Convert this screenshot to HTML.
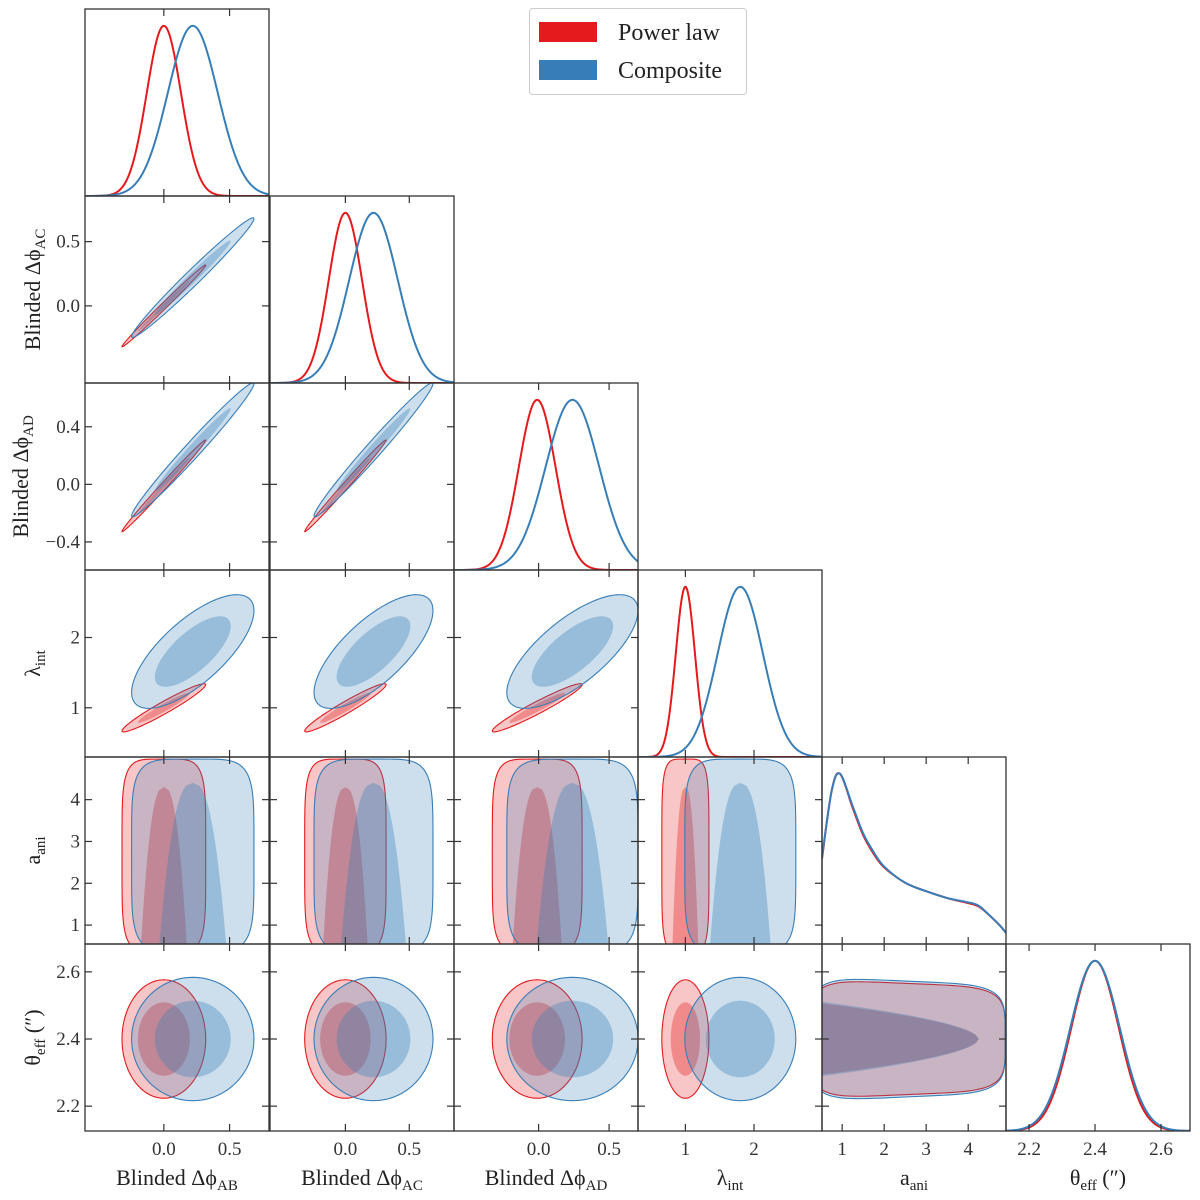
<!DOCTYPE html>
<html><head><meta charset="utf-8"><style>
html,body{margin:0;padding:0;background:#fff;}
svg{display:block;font-family:"Liberation Serif",serif;}
</style></head><body>
<svg id="chart" width="1200" height="1200" viewBox="0 0 1200 1200" xmlns="http://www.w3.org/2000/svg">
<g id="marks"></g>
<g id="frames"></g>
<g id="labels"></g>
<g>
<rect x="529.5" y="8.5" width="217" height="86" rx="3" fill="#fff" stroke="#cccccc" stroke-width="1"/>
<rect x="539" y="22" width="58" height="20" fill="#e41a1c"/>
<text x="618" y="40" font-size="24" fill="#222">Power law</text>
<rect x="539" y="60" width="58" height="20" fill="#377eb8"/>
<text x="618" y="78" font-size="24" fill="#222">Composite</text>
</g>
</svg>
<script>
// ---- data ----
const params = ['AB','AC','AD','lam','ani','theta'];
const plMean = [0.0, 0.0, -0.01, 1.0, 2.3, 2.40];
const plSigma = [0.13, 0.13, 0.13, 0.14, 1.0, 0.072];
const compMean = [0.22, 0.22, 0.24, 1.8, 2.3, 2.40];
const compSigma = [0.19, 0.19, 0.19, 0.33, 1.0, 0.075];
const corrPhiPL = 0.995;
const corrPhiComp = 0.985;
const corrLamPL = 0.96;
const corrLamComp = 0.72;
const aGrid = [0.52,0.75,0.95,1.25,1.5,1.75,2.0,2.5,3.0,3.5,4.0,4.25,4.5,4.75,4.9];
const aDensPL = [0.50,0.90,1.0,0.80,0.64,0.53,0.45,0.36,0.31,0.27,0.24,0.22,0.17,0.11,0.065];
const aDensComp = [0.51,0.90,1.0,0.81,0.65,0.54,0.455,0.36,0.31,0.27,0.245,0.225,0.17,0.11,0.065];
const xRanges = [[-0.6,0.80],[-0.59,0.85],[-0.60,0.705],[0.31,2.99],[0.52,4.9],[2.13,2.688]];
const yRanges = [[-0.6,0.80],[-0.6,0.855],[-0.595,0.704],[0.30,2.96],[0.548,5.02],[2.126,2.683]];
const xTickVals = [[0,0.5],[0,0.5],[0,0.5],[1,2],[1,2,3,4],[2.2,2.4,2.6]];
const xTickLabels = [['0.0','0.5'],['0.0','0.5'],['0.0','0.5'],['1','2'],['1','2','3','4'],['2.2','2.4','2.6']];
const yTickVals = [[0,0.5],[0,0.5],[-0.4,0,0.4],[1,2],[1,2,3,4],[2.2,2.4,2.6]];
const yTickLabels = [['0.0','0.5'],['0.0','0.5'],['\u22120.4','0.0','0.4'],['1','2'],['1','2','3','4'],['2.2','2.4','2.6']];

// ---- geometry ----
const colL = [85,270,454,638,822,1006], PW = 184;
const rowT = [9,196,383,570,757,944], PH = 187;
const NS = 'http://www.w3.org/2000/svg';
const marks = document.getElementById('marks'), frames = document.getElementById('frames'), labels = document.getElementById('labels');
function mk(tag, attrs, parent){const e=document.createElementNS(NS,tag);for(const k in attrs)e.setAttribute(k,attrs[k]);parent.appendChild(e);return e;}
function sx(c,v){const r=xRanges[c];return colL[c]+(v-r[0])/(r[1]-r[0])*PW;}
function sy(r,v){const g=yRanges[r];return rowT[r]+PH-(v-g[0])/(g[1]-g[0])*PH;}
function pathFrom(pts){return 'M'+pts.map(p=>p[0].toFixed(2)+','+p[1].toFixed(2)).join('L')+'Z';}
const RED='#e41a1c', BLUE='#377eb8';
const R68=1.52, R95=2.45;

function corrOf(i,j,model){
  const phi=(k)=>k<=2;
  if(phi(i)&&phi(j)) return model==='pl'?corrPhiPL:corrPhiComp;
  if((phi(i)&&j===3)||(phi(j)&&i===3)) return model==='pl'?corrLamPL:corrLamComp;
  return 0;
}
function ellipsePts(mx,my,sxv,syv,rho,r){
  const pts=[];const l11=sxv,l21=rho*syv,l22=syv*Math.sqrt(Math.max(1e-6,1-rho*rho));
  for(let k=0;k<120;k++){const t=k/120*2*Math.PI;const u=r*Math.cos(t),w=r*Math.sin(t);pts.push([mx+l11*u,my+l21*u+l22*w]);}
  return pts;
}
function drawShape(g,ptsData,c,row,fill,op,stroke){
  const pts=ptsData.map(p=>[sx(c,p[0]),sy(row,p[1])]);
  const a={d:pathFrom(pts),fill:fill,'fill-opacity':op};
  if(stroke){a.stroke=stroke;a['stroke-width']=1.1;a['stroke-opacity']=1;}
  return mk('path',a,g);
}
function aniShape(mu,sig,outer,aTop){
  const pts=[];
  if(outer){const aLo=0.35,aHi=4.97,am=(aLo+aHi)/2,ah=(aHi-aLo)/2,n=5;
    for(let k=0;k<160;k++){const t=k/160*2*Math.PI;const c=Math.cos(t),s=Math.sin(t);
      pts.push([mu+R95*sig*Math.sign(c)*Math.pow(Math.abs(c),2/n),am+ah*Math.sign(s)*Math.pow(Math.abs(s),2/n)]);}
  } else {const aLo=0.3;const N=60;
    const wf=(a)=>R68*sig*0.9*Math.pow(Math.max(0,(aTop-a)/(aTop-aLo)),0.4);
    for(let k=0;k<=N;k++){const a=aLo+(aTop-aLo)*k/N;pts.push([mu-wf(a),a]);}
    for(let k=N;k>=0;k--){const a=aLo+(aTop-aLo)*k/N;pts.push([mu+wf(a),a]);}
  }
  return pts;
}
function aniThetaShape(mu,sig,outer){
  const pts=[];
  if(outer){const aLo=0.25,aHi=4.88,am=(aLo+aHi)/2,ah=(aHi-aLo)/2,n=5;
    for(let k=0;k<160;k++){const t=k/160*2*Math.PI;const c=Math.cos(t),s=Math.sin(t);
      const a=am+ah*Math.sign(c)*Math.pow(Math.abs(c),2/n);const w=R95*sig*(1-0.12*(a-0.5)/4);
      pts.push([a,mu+w*Math.sign(s)*Math.pow(Math.abs(s),2/n)]);}
  } else {const aLo=0.3,aTop=4.25,N=60;
    const wf=(a)=>R68*sig*Math.pow(Math.max(0,(aTop-a)/(aTop-aLo)),0.55);
    for(let k=0;k<=N;k++){const a=aLo+(aTop-aLo)*k/N;pts.push([a,mu+wf(a)]);}
    for(let k=N;k>=0;k--){const a=aLo+(aTop-aLo)*k/N;pts.push([a,mu-wf(a)]);}
  }
  return pts;
}

const defs=mk('defs',{},marks);
for(let row=0;row<6;row++){
  for(let c=0;c<=row;c++){
    const cp=mk('clipPath',{id:'cp'+row+'_'+c},defs);
    mk('rect',{x:colL[c],y:rowT[row],width:PW,height:PH},cp);
    const g=mk('g',{'clip-path':'url(#cp'+row+'_'+c+')'},marks);
    
    
    if(row===c){
      const models=[['pl',RED,plMean,plSigma,aDensPL],['comp',BLUE,compMean,compSigma,aDensComp]];
      for(const m of models){
        let pts=[];
        if(c===4){
          for(let k=0;k<aGrid.length;k++)pts.push([sx(c,aGrid[k]),rowT[row]+PH-0.91*PH*m[4][k]]);
          let d='M'+pts[0][0]+','+pts[0][1];
          for(let k=0;k<pts.length-1;k++){const p0=pts[Math.max(0,k-1)],p1=pts[k],p2=pts[k+1],p3=pts[Math.min(pts.length-1,k+2)];
            d+='C'+(p1[0]+(p2[0]-p0[0])/6)+','+(p1[1]+(p2[1]-p0[1])/6)+' '+(p2[0]-(p3[0]-p1[0])/6)+','+(p2[1]-(p3[1]-p1[1])/6)+' '+p2[0]+','+p2[1];}
          const e=mk('path',{d:d,fill:'none',stroke:m[1],'stroke-width':2},g);
          
          
        } else {
          const r=xRanges[c];
          for(let k=0;k<=200;k++){const v=r[0]+(r[1]-r[0])*k/200;const z=(v-m[2][c])/m[3][c];pts.push([sx(c,v),rowT[row]+PH-0.91*PH*Math.exp(-0.5*z*z)]);}
          const e=mk('path',{d:'M'+pts.map(p=>p[0].toFixed(2)+','+p[1].toFixed(2)).join('L'),fill:'none',stroke:m[1],'stroke-width':2},g);
          
          
        }
      }
    } else {
      const models=[['pl',RED,plMean,plSigma,4.3],['comp',BLUE,compMean,compSigma,4.4]];
      for(const m of models){
        let outer,inner;
        if(row===4){outer=aniShape(m[2][c],m[3][c],true);inner=aniShape(m[2][c],m[3][c],false,m[4]);}
        else if(row===5&&c===4){outer=aniThetaShape(m[2][5],m[3][5],true);inner=aniThetaShape(m[2][5],m[3][5],false);}
        else {const rho=corrOf(c,row,m[0]);
          outer=ellipsePts(m[2][c],m[2][row],m[3][c],m[3][row],rho,R95);
          inner=ellipsePts(m[2][c],m[2][row],m[3][c],m[3][row],rho,R68);}
        const eo=drawShape(g,outer,c,row,m[1],0.25,m[1]);
        
        
        const ei=drawShape(g,inner,c,row,m[1],0.35,null);
        
        
      }
    }
    const f=mk('rect',{x:colL[c],y:rowT[row],width:PW,height:PH,fill:'none',stroke:'#333','stroke-width':1.3},frames);
    
    
    const T=7;
    xTickVals[c].forEach(v=>{const x=sx(c,v);
      mk('line',{x1:x,x2:x,y1:rowT[row]+PH,y2:rowT[row]+PH-T,stroke:'#333','stroke-width':1.2},frames);
      mk('line',{x1:x,x2:x,y1:rowT[row],y2:rowT[row]+T,stroke:'#333','stroke-width':1.2},frames);});
    if(row!==c){yTickVals[row].forEach(v=>{const y=sy(row,v);
      mk('line',{x1:colL[c],x2:colL[c]+T,y1:y,y2:y,stroke:'#333','stroke-width':1.2},frames);
      mk('line',{x1:colL[c]+PW,x2:colL[c]+PW-T,y1:y,y2:y,stroke:'#333','stroke-width':1.2},frames);});}
  }
}
for(let c=0;c<6;c++){xTickVals[c].forEach((v,k)=>{const t=mk('text',{x:sx(c,v),y:1155,'font-size':19,'text-anchor':'middle',fill:'#333'},labels);t.textContent=xTickLabels[c][k];
  
  });}
for(let r=1;r<6;r++){yTickVals[r].forEach((v,k)=>{const t=mk('text',{x:80,y:sy(r,v)+6,'font-size':19,'text-anchor':'end',fill:'#333'},labels);t.textContent=yTickLabels[r][k];
  
  });}
const titleMain=['Blinded \u0394\u03D5','Blinded \u0394\u03D5','Blinded \u0394\u03D5','\u03BB','a','\u03B8'];
const titleSub=['AB','AC','AD','int','ani','eff'];
const titleTail=['','','','','',' (\u2033)'];
function title(parent,x,y,k,rot){
  const t=mk('text',{x:x,y:y,'font-size':22,'text-anchor':'middle',fill:'#222'},parent);
  if(rot)t.setAttribute('transform','rotate(-90 '+x+' '+y+')');
  const a=mk('tspan',{},t);a.textContent=titleMain[k];
  const b=mk('tspan',{'font-size':15,dy:5},t);b.textContent=titleSub[k];
  if(titleTail[k]){const cc=mk('tspan',{dy:-5},t);cc.textContent=titleTail[k];}
  return t;
}
for(let c=0;c<6;c++){const t=title(labels,colL[c]+PW/2,1185,c,false);
  
  }
for(let r=1;r<6;r++){const t=title(labels,r===2?28:40,rowT[r]+PH/2,r,true);
  
  }
</script>
</body></html>
